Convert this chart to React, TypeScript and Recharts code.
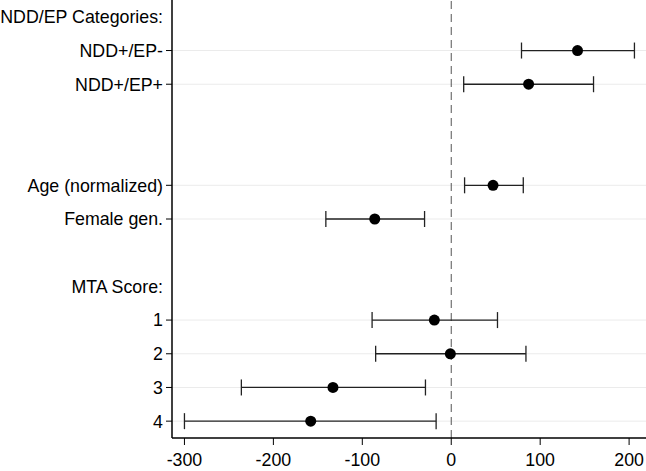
import {
  ScatterChart, Scatter, XAxis, YAxis, ErrorBar, ReferenceLine,
} from 'recharts'

// row labels, top to bottom (headers have no tick, blanks are spacers)
const rowLabels = [
  'NDD/EP Categories:', 'NDD+/EP-', 'NDD+/EP+', '', '',
  'Age (normalized)', 'Female gen.', '', 'MTA Score:', '1', '2', '3', '4',
]
const headerRows = [0, 8]

// estimates with 95% CI
const termRows = [1, 2, 5, 6, 9, 10, 11, 12]
const estimate = [142, 87, 47, -86, -19, -1, -133, -158]
const lower = [79, 14, 15, -141, -89, -85, -236, -300]
const upper = [206, 160, 81, -30, 52, 84, -29, -17]

const xTicks = [-300, -200, -100, 0, 100, 200]

const data = termRows.map((row, i) => ({
  row,
  est: estimate[i],
  err: [estimate[i] - lower[i], upper[i] - estimate[i]],
}))

const FONT = '"Liberation Sans", Arial, sans-serif'
const FS = 17.8

function RowTick(props: any) {
  const { x, y, payload } = props
  const label = rowLabels[payload.value] ?? ''
  const isHeader = headerRows.includes(payload.value)
  return (
    <g>
      {!isHeader && label !== '' && (
        <line x1={x - 6} x2={x} y1={y} y2={y} stroke="#000" strokeWidth={1} />
      )}
      <text
        x={x - 9}
        y={y}
        dy="0.36em"
        textAnchor="end"
        fontSize={FS}
        fontFamily={FONT}
        fill="#000"
      >
        {label}
      </text>
    </g>
  )
}

function ValueTick(props: any) {
  const { x, y, payload } = props
  return (
    <text
      x={x}
      y={y}
      dy="0.71em"
      textAnchor="middle"
      fontSize={FS}
      fontFamily={FONT}
      fill="#000"
    >
      {payload.value}
    </text>
  )
}

export default function App() {
  return (
    <div style={{ position: 'absolute', left: 0, top: 0, background: '#fff' }}>
      <ScatterChart
        width={646}
        height={471}
        margin={{ top: 0, right: 0, bottom: 0, left: 0 }}
      >
        <XAxis
          type="number"
          dataKey="est"
          domain={[-314, 219]}
          allowDataOverflow
          ticks={xTicks}
          height={33}
          tickSize={7}
          tickMargin={8}
          axisLine={{ stroke: '#000', strokeWidth: 1.5 }}
          tickLine={{ stroke: '#000' }}
          tick={<ValueTick />}
        />
        <YAxis
          type="number"
          dataKey="row"
          domain={[-0.5, 12.5]}
          reversed
          ticks={rowLabels.map((_, i) => i)}
          interval={0}
          width={172}
          tickSize={0}
          tickMargin={0}
          tickLine={false}
          axisLine={{ stroke: '#000', strokeWidth: 1.5 }}
          tick={<RowTick />}
        />
        {termRows.map(r => (
          <ReferenceLine key={r} y={r} stroke="#ebebeb" strokeWidth={1} />
        ))}
        <ReferenceLine x={0} stroke="#555" strokeWidth={1} strokeDasharray="8 5" />
        <Scatter
          data={data}
          isAnimationActive={false}
          shape={(p: any) => <circle cx={p.cx} cy={p.cy} r={5.5} fill="#000" />}
        >
          <ErrorBar
            dataKey="err"
            direction="x"
            width={8}
            stroke="#222"
            strokeWidth={1.3}
            isAnimationActive={false}
          />
        </Scatter>
      </ScatterChart>
    </div>
  )
}
